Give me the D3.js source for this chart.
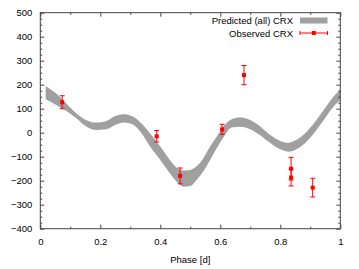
<!DOCTYPE html>
<html>
<head>
<meta charset="utf-8">
<script src="https://cdn.jsdelivr.net/npm/d3@7"></script>
<style>
  body { margin: 0; background: #fff; }
  text { font-family: "Liberation Sans", Arial, sans-serif; font-size: 9.5px; fill: #000; }
</style>
</head>
<body>
<div id="chart"></div>
<script>
// predicted band (upper / lower edge)
const bandPhase = [0.018, 0.05, 0.085, 0.12, 0.152, 0.186, 0.22, 0.25, 0.28, 0.31, 0.333, 0.366, 0.4, 0.432, 0.455, 0.478, 0.5, 0.521, 0.543, 0.566, 0.588, 0.61, 0.638, 0.666, 0.693, 0.727, 0.76, 0.793, 0.827, 0.849, 0.882, 0.916, 0.949, 0.982, 1.0];
const bandUpper = [195, 166, 124, 81, 53, 42, 49, 70, 77, 66, 44, -3, -58, -114, -146, -158, -155, -140, -107, -58, -17, 25, 56, 63, 56, 32, -3, -30, -42, -33, -3, 46, 102, 157, 180];
const bandLower = [139, 118, 92, 60, 27, 11, 14, 32, 42, 33, 5, -58, -114, -169, -204, -225, -222, -197, -162, -114, -65, -20, 22, 25, 18, -5, -37, -65, -79, -72, -44, 4, 60, 115, 135];

// observed points
const obsPhase = [0.073, 0.388, 0.466, 0.606, 0.679, 0.836, 0.836, 0.908];
const obsValue = [127, -15, -180, 14, 240, -150, -187, -229];
const obsError = [27, 24, 33, 21, 40, 47, 35, 39];

const xTicks = [0, 0.2, 0.4, 0.6, 0.8, 1];
const yTicks = [-400, -300, -200, -100, 0, 100, 200, 300, 400, 500];

const W = 359, H = 269;
const margin = { top: 12.7, right: 18.7, bottom: 40.3, left: 40.3 };

const svg = d3.select("#chart").append("svg")
    .attr("width", W)
    .attr("height", H);

const x = d3.scaleLinear().domain([0, 1]).range([margin.left, W - margin.right]);
const y = d3.scaleLinear().domain([-400, 500]).range([H - margin.bottom, margin.top]);

const frameColor = "#444";

// band
const area = d3.area()
    .x((d, i) => x(bandPhase[i]))
    .y0((d, i) => y(bandLower[i]))
    .y1((d, i) => y(bandUpper[i]))
    .curve(d3.curveMonotoneX);

svg.append("path")
    .datum(bandPhase)
    .attr("d", area)
    .attr("fill", "#a0a0a0");

// axes (ticks pointing inward, mirrored)
const minorY = d3.range(-400, 501, 25).filter(v => v % 100 !== 0);
const minorX = d3.range(0.1, 1, 0.2);

function addAxis(axis, transform) {
    const g = svg.append("g").attr("transform", transform).call(axis);
    g.select(".domain").remove();
    g.selectAll(".tick line").attr("stroke", frameColor);
    return g;
}

const yLeft = addAxis(d3.axisLeft(y).tickValues(yTicks).tickSize(-4).tickPadding(8), `translate(${margin.left},0)`);
yLeft.selectAll("text").style("font-size", null).style("font-family", null);
addAxis(d3.axisLeft(y).tickValues(minorY).tickSize(-2).tickFormat(""), `translate(${margin.left},0)`);
addAxis(d3.axisRight(y).tickValues(yTicks).tickSize(-4).tickFormat(""), `translate(${W - margin.right},0)`);
addAxis(d3.axisRight(y).tickValues(minorY).tickSize(-2).tickFormat(""), `translate(${W - margin.right},0)`);

const xBottom = addAxis(d3.axisBottom(x).tickValues(xTicks).tickSize(-4).tickPadding(10).tickFormat(d3.format("")), `translate(0,${H - margin.bottom})`);
xBottom.selectAll("text").style("font-size", null).style("font-family", null);
addAxis(d3.axisBottom(x).tickValues(minorX).tickSize(-2).tickFormat(""), `translate(0,${H - margin.bottom})`);
addAxis(d3.axisTop(x).tickValues(xTicks).tickSize(-4).tickFormat(""), `translate(0,${margin.top})`);
addAxis(d3.axisTop(x).tickValues(minorX).tickSize(-2).tickFormat(""), `translate(0,${margin.top})`);

svg.selectAll(".tick text").attr("fill", "#000");

// frame
svg.append("rect")
    .attr("x", margin.left)
    .attr("y", margin.top)
    .attr("width", W - margin.left - margin.right)
    .attr("height", H - margin.top - margin.bottom)
    .attr("fill", "none")
    .attr("stroke", frameColor)
    .attr("stroke-width", 1);

// x label
svg.append("text")
    .attr("x", x(0.5))
    .attr("y", 263)
    .attr("text-anchor", "middle")
    .text("Phase [d]");

// observed points with error bars
const red = "#f00";
const obs = svg.append("g");
obsPhase.forEach((p, i) => {
    const cx = x(p), cy = y(obsValue[i]);
    const top = y(obsValue[i] + obsError[i]), bot = y(obsValue[i] - obsError[i]);
    obs.append("line").attr("x1", cx).attr("x2", cx).attr("y1", top).attr("y2", bot)
        .attr("stroke", red).attr("stroke-width", 1);
    [top, bot].forEach(yy => {
        obs.append("line").attr("x1", cx - 2.5).attr("x2", cx + 2.5).attr("y1", yy).attr("y2", yy)
            .attr("stroke", red).attr("stroke-width", 1);
    });
    obs.append("rect").attr("x", cx - 2).attr("y", cy - 2).attr("width", 4).attr("height", 4)
        .attr("fill", red);
});

// legend
const legend = svg.append("g");
legend.append("text")
    .attr("x", 293).attr("y", 24)
    .attr("text-anchor", "end")
    .text("Predicted (all) CRX");
legend.append("rect")
    .attr("x", 300).attr("y", 17.5).attr("width", 27.5).attr("height", 6)
    .attr("fill", "#a0a0a0");

legend.append("text")
    .attr("x", 293).attr("y", 36.5)
    .attr("text-anchor", "end")
    .text("Observed CRX");
legend.append("line")
    .attr("x1", 300).attr("x2", 327.5).attr("y1", 33).attr("y2", 33)
    .attr("stroke", red);
[300, 327.5].forEach(xx => {
    legend.append("line")
        .attr("x1", xx).attr("x2", xx).attr("y1", 31).attr("y2", 35)
        .attr("stroke", red);
});
legend.append("rect")
    .attr("x", 311.8).attr("y", 31).attr("width", 4).attr("height", 4)
    .attr("fill", red);
</script>
</body>
</html>
